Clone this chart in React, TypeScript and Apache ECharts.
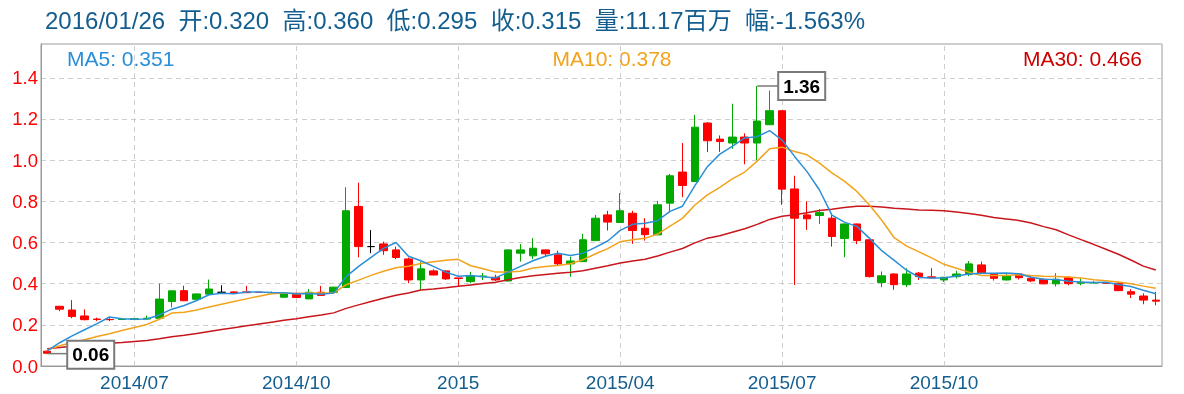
import React, { useEffect, useRef } from 'react';
import * as echarts from 'echarts';

const dates = [
  '2014/05/16', '2014/05/23', '2014/05/30', '2014/06/06', '2014/06/13', '2014/06/20', '2014/06/27', '2014/07/04', '2014/07/11', '2014/07/18',
  '2014/07/25', '2014/08/01', '2014/08/08', '2014/08/15', '2014/08/22', '2014/08/29', '2014/09/05', '2014/09/12', '2014/09/19', '2014/09/26',
  '2014/10/03', '2014/10/10', '2014/10/17', '2014/10/24', '2014/10/31', '2014/11/07', '2014/11/14', '2014/11/21', '2014/11/28', '2014/12/05',
  '2014/12/12', '2014/12/19', '2014/12/24', '2015/01/02', '2015/01/09', '2015/01/16', '2015/01/23', '2015/01/30', '2015/02/06', '2015/02/13',
  '2015/02/18', '2015/02/27', '2015/03/06', '2015/03/13', '2015/03/20', '2015/03/27', '2015/04/02', '2015/04/10', '2015/04/17', '2015/04/24',
  '2015/04/30', '2015/05/08', '2015/05/15', '2015/05/22', '2015/05/29', '2015/06/05', '2015/06/12', '2015/06/19', '2015/06/26', '2015/07/03',
  '2015/07/10', '2015/07/17', '2015/07/24', '2015/07/31', '2015/08/07', '2015/08/14', '2015/08/21', '2015/08/28', '2015/09/04', '2015/09/11',
  '2015/09/18', '2015/09/25', '2015/10/02', '2015/10/09', '2015/10/16', '2015/10/23', '2015/10/30', '2015/11/06', '2015/11/13', '2015/11/20',
  '2015/11/27', '2015/12/04', '2015/12/11', '2015/12/18', '2015/12/24', '2015/12/31', '2016/01/08', '2016/01/15', '2016/01/22', '2016/01/26',
];

const opens = [
  0.072, 0.290, 0.272, 0.243, 0.228, 0.226, 0.226, 0.226, 0.228, 0.232,
  0.313, 0.366, 0.324, 0.349, 0.358, 0.360, 0.360, 0.358, 0.356, 0.334,
  0.353, 0.326, 0.358, 0.358, 0.381, 0.775, 0.580, 0.593, 0.564, 0.520,
  0.418, 0.462, 0.462, 0.428, 0.410, 0.434, 0.431, 0.413, 0.548, 0.535,
  0.564, 0.540, 0.496, 0.507, 0.609, 0.734, 0.697, 0.742, 0.669, 0.637,
  0.791, 0.942, 0.896, 1.180, 1.102, 1.083, 1.112, 1.083, 1.172, 1.240,
  0.860, 0.734, 0.731, 0.718, 0.619, 0.690, 0.613, 0.405, 0.447, 0.395,
  0.451, 0.433, 0.418, 0.434, 0.446, 0.491, 0.447, 0.418, 0.447, 0.426,
  0.421, 0.399, 0.429, 0.402, 0.403, 0.403, 0.402, 0.361, 0.340, 0.320,
];

const closes = [
  0.062, 0.276, 0.240, 0.225, 0.226, 0.225, 0.228, 0.230, 0.232, 0.325,
  0.365, 0.317, 0.350, 0.374, 0.358, 0.355, 0.356, 0.357, 0.357, 0.353,
  0.333, 0.358, 0.343, 0.383, 0.754, 0.580, 0.580, 0.560, 0.527, 0.418,
  0.472, 0.442, 0.423, 0.425, 0.438, 0.437, 0.418, 0.564, 0.564, 0.572,
  0.545, 0.496, 0.510, 0.613, 0.718, 0.699, 0.754, 0.658, 0.638, 0.783,
  0.924, 0.877, 1.160, 1.094, 1.090, 1.112, 1.083, 1.190, 1.240, 0.859,
  0.718, 0.715, 0.745, 0.629, 0.690, 0.609, 0.434, 0.438, 0.395, 0.447,
  0.434, 0.428, 0.431, 0.447, 0.496, 0.451, 0.426, 0.438, 0.429, 0.413,
  0.399, 0.421, 0.400, 0.407, 0.405, 0.402, 0.366, 0.349, 0.320, 0.315,
];

const lows = [
  0.060, 0.266, 0.232, 0.222, 0.218, 0.218, 0.224, 0.224, 0.226, 0.230,
  0.285, 0.315, 0.322, 0.348, 0.356, 0.352, 0.355, 0.355, 0.354, 0.333,
  0.332, 0.324, 0.342, 0.356, 0.380, 0.528, 0.548, 0.540, 0.519, 0.402,
  0.369, 0.440, 0.418, 0.386, 0.402, 0.418, 0.413, 0.410, 0.507, 0.519,
  0.531, 0.490, 0.434, 0.505, 0.607, 0.658, 0.695, 0.593, 0.609, 0.635,
  0.745, 0.820, 0.894, 1.039, 1.040, 1.055, 0.980, 1.000, 1.170, 0.783,
  0.394, 0.661, 0.690, 0.580, 0.528, 0.592, 0.430, 0.383, 0.370, 0.383,
  0.418, 0.425, 0.408, 0.425, 0.436, 0.447, 0.415, 0.415, 0.420, 0.407,
  0.397, 0.386, 0.392, 0.392, 0.402, 0.400, 0.364, 0.330, 0.300, 0.295,
];

const highs = [
  0.074, 0.292, 0.320, 0.275, 0.235, 0.232, 0.232, 0.232, 0.245, 0.400,
  0.366, 0.390, 0.352, 0.420, 0.392, 0.362, 0.389, 0.360, 0.362, 0.355,
  0.355, 0.374, 0.389, 0.385, 0.868, 0.890, 0.660, 0.604, 0.580, 0.527,
  0.507, 0.470, 0.464, 0.428, 0.457, 0.452, 0.443, 0.566, 0.592, 0.621,
  0.566, 0.560, 0.531, 0.642, 0.734, 0.754, 0.840, 0.754, 0.718, 0.802,
  0.933, 1.083, 1.220, 1.185, 1.120, 1.274, 1.130, 1.360, 1.338, 1.242,
  0.924, 0.800, 0.762, 0.735, 0.692, 0.692, 0.615, 0.459, 0.450, 0.475,
  0.457, 0.475, 0.433, 0.463, 0.510, 0.507, 0.450, 0.447, 0.450, 0.437,
  0.426, 0.451, 0.437, 0.426, 0.413, 0.405, 0.405, 0.373, 0.353, 0.360,
];

const ma5 = [
  0.073, 0.113, 0.146, 0.176, 0.206, 0.238, 0.229, 0.227, 0.228, 0.248,
  0.276, 0.294, 0.318, 0.346, 0.353, 0.351, 0.359, 0.360, 0.357, 0.356,
  0.351, 0.352, 0.349, 0.354, 0.434, 0.484, 0.528, 0.571, 0.600, 0.533,
  0.511, 0.484, 0.456, 0.436, 0.440, 0.433, 0.428, 0.456, 0.484, 0.511,
  0.533, 0.548, 0.537, 0.547, 0.576, 0.607, 0.659, 0.688, 0.693, 0.706,
  0.751, 0.776, 0.876, 0.968, 1.029, 1.067, 1.108, 1.114, 1.143, 1.097,
  1.018, 0.944, 0.855, 0.733, 0.699, 0.678, 0.621, 0.560, 0.513, 0.465,
  0.430, 0.428, 0.427, 0.437, 0.447, 0.451, 0.450, 0.452, 0.448, 0.431,
  0.421, 0.420, 0.412, 0.408, 0.406, 0.407, 0.396, 0.386, 0.368, 0.351,
];

const ma10 = [
  0.078, 0.098, 0.114, 0.128, 0.143, 0.157, 0.172, 0.187, 0.202, 0.227,
  0.257, 0.261, 0.272, 0.287, 0.300, 0.313, 0.326, 0.339, 0.351, 0.354,
  0.351, 0.355, 0.354, 0.355, 0.395, 0.417, 0.440, 0.460, 0.477, 0.484,
  0.498, 0.506, 0.514, 0.518, 0.487, 0.472, 0.456, 0.456, 0.460, 0.476,
  0.483, 0.488, 0.497, 0.516, 0.544, 0.570, 0.604, 0.613, 0.620, 0.641,
  0.679, 0.717, 0.782, 0.831, 0.868, 0.909, 0.942, 0.995, 1.055, 1.063,
  1.042, 1.026, 0.985, 0.938, 0.898, 0.848, 0.783, 0.708, 0.623, 0.582,
  0.554, 0.525, 0.494, 0.475, 0.456, 0.440, 0.439, 0.439, 0.443, 0.439,
  0.436, 0.435, 0.432, 0.428, 0.419, 0.414, 0.408, 0.399, 0.388, 0.378,
];

const ma30 = [
  0.084, 0.090, 0.096, 0.100, 0.105, 0.110, 0.114, 0.119, 0.124, 0.132,
  0.142, 0.149, 0.158, 0.168, 0.177, 0.186, 0.195, 0.204, 0.213, 0.222,
  0.230, 0.239, 0.248, 0.258, 0.280, 0.297, 0.313, 0.329, 0.344, 0.355,
  0.369, 0.374, 0.380, 0.387, 0.394, 0.401, 0.407, 0.419, 0.430, 0.438,
  0.444, 0.450, 0.455, 0.463, 0.475, 0.487, 0.500, 0.510, 0.519, 0.534,
  0.553, 0.571, 0.598, 0.621, 0.633, 0.650, 0.667, 0.688, 0.712, 0.727,
  0.735, 0.744, 0.755, 0.761, 0.770, 0.776, 0.776, 0.772, 0.766, 0.762,
  0.758, 0.756, 0.754, 0.748, 0.741, 0.732, 0.721, 0.714, 0.707, 0.695,
  0.677, 0.662, 0.637, 0.614, 0.591, 0.567, 0.543, 0.515, 0.485, 0.466,
];

const volumeText = '11.17百万';
const changeText = '-1.563%';
const quarterMonths = ['01', '04', '07', '10'];

const FONT = '"Liberation Sans", Arial, "Noto Sans CJK SC", sans-serif';
const C_UP = '#00a800';
const C_DOWN = '#ff0000';
const C_MA5 = '#2b8fd8';
const C_MA10 = '#f2a31b';
const C_MA30 = '#c8161d';
const C_TITLE = '#145e8f';

export default function App() {
  const ref = useRef<HTMLDivElement>(null);

  useEffect(() => {
    const chart = echarts.init(ref.current as HTMLDivElement, null, { renderer: 'svg' });
    const candles = dates.map((_, i) => [opens[i], closes[i], lows[i], highs[i]]);
    // Quarter marks; the reference leaves out a mark too close to the right edge.
    const isQuarterStart = (i: number) => {
      if (i <= 0 || i > dates.length - 8) return false;
      const m = dates[i].slice(5, 7);
      return m !== dates[i - 1].slice(5, 7) && quarterMonths.includes(m);
    };
    const quarterDates = dates.filter((_, i) => isQuarterStart(i));
    const last = dates.length - 1;
    const title =
      `${dates[last]}  开:${opens[last].toFixed(3)}  高:${highs[last].toFixed(3)}  低:${lows[last].toFixed(3)}  ` +
      `收:${closes[last].toFixed(3)}  量:${volumeText}  幅:${changeText}`;

    chart.setOption({
      animation: false,
      textStyle: { fontFamily: FONT },
      grid: { left: 41, right: 22, top: 44, bottom: 28, show: true, borderColor: '#9a9a9a', borderWidth: 1 },
      xAxis: {
        type: 'category',
        data: dates,
        boundaryGap: true,
        axisLine: { show: true, lineStyle: { color: '#9a9a9a', width: 1 } },
        axisTick: { show: false },
        splitLine: { show: false },
        axisLabel: {
          interval: (i: number) => isQuarterStart(i),
          formatter: (v: string) => (v.slice(5, 7) === '01' ? v.slice(0, 4) : v.slice(0, 7)),
          color: C_TITLE,
          fontSize: 19,
          fontFamily: FONT,
          margin: 7,
        },
      },
      yAxis: {
        type: 'value',
        min: 0,
        max: 1.564,
        interval: 0.2,
        axisLine: { show: true, lineStyle: { color: '#9a9a9a', width: 1 } },
        axisTick: { show: false },
        splitLine: { show: true, lineStyle: { color: '#cfcfcf', type: [5, 4], width: 1 } },
        axisLabel: {
          showMaxLabel: false,
          formatter: (v: number) => v.toFixed(1),
          color: '#ff0000',
          fontSize: 18.5,
          fontFamily: FONT,
          margin: 3,
        },
      },
      series: [
        {
          type: 'candlestick',
          data: candles,
          barWidth: 8,
          itemStyle: {
            color: C_UP,
            color0: C_DOWN,
            borderColor: C_UP,
            borderColor0: C_DOWN,
            borderColorDoji: '#000000',
            borderWidth: 1,
          },
          markLine: {
            silent: true,
            symbol: ['none', 'none'],
            z: 1,
            label: { show: false },
            lineStyle: { color: '#cfcfcf', type: [5, 4], width: 1 },
            data: quarterDates.map((d) => ({ xAxis: d })),
          },
        },
        { type: 'line', data: ma30, symbol: 'none', lineStyle: { color: C_MA30, width: 1.5 } },
        { type: 'line', data: ma10, symbol: 'none', lineStyle: { color: C_MA10, width: 1.5 } },
        { type: 'line', data: ma5, symbol: 'none', lineStyle: { color: C_MA5, width: 1.5 } },
      ],
    });

    const hiIdx = highs.indexOf(Math.max(...highs));
    const loIdx = lows.indexOf(Math.min(...lows));
    const ph = chart.convertToPixel({ gridIndex: 0 }, [hiIdx, highs[hiIdx]]) as number[];
    const pl = chart.convertToPixel({ gridIndex: 0 }, [loIdx, lows[loIdx]]) as number[];

    const marker = (p: number[], label: string, dx: number, dyBox: number) => [
      {
        type: 'line',
        z: 50,
        shape: { x1: p[0], y1: p[1], x2: p[0] + dx, y2: p[1] },
        style: { stroke: '#7a7a7a', lineWidth: 1.5 },
      },
      {
        type: 'rect',
        z: 50,
        shape: { x: p[0] + dx, y: p[1] - 14 + dyBox, width: 47, height: 28 },
        style: { fill: '#ffffff', stroke: '#7a7a7a', lineWidth: 2 },
      },
      {
        type: 'text',
        z: 51,
        x: p[0] + dx + 23.5,
        y: p[1] + dyBox,
        style: {
          text: label,
          font: `bold 19px ${FONT}`,
          fill: '#000000',
          align: 'center',
          verticalAlign: 'middle',
        },
      },
    ];

    chart.setOption({
      graphic: [
        {
          type: 'text',
          x: 45,
          y: 20,
          style: { text: title, font: `24px ${FONT}`, fill: C_TITLE, align: 'left', verticalAlign: 'middle' },
        },
        {
          type: 'text',
          x: 67,
          y: 58,
          style: { text: `MA5: ${ma5[last].toFixed(3)}`, font: `21px ${FONT}`, fill: C_MA5, align: 'left', verticalAlign: 'middle' },
        },
        {
          type: 'text',
          x: 612,
          y: 58,
          style: { text: `MA10: ${ma10[last].toFixed(3)}`, font: `21px ${FONT}`, fill: C_MA10, align: 'center', verticalAlign: 'middle' },
        },
        {
          type: 'text',
          x: 1142,
          y: 58,
          style: { text: `MA30: ${ma30[last].toFixed(3)}`, font: `21px ${FONT}`, fill: '#cc0000', align: 'right', verticalAlign: 'middle' },
        },
        ...marker(ph, highs[hiIdx].toFixed(2), 21, 0),
        ...marker(pl, lows[loIdx].toFixed(2), 20, 1),
      ],
    });

    return () => chart.dispose();
  }, []);

  return <div ref={ref} style={{ position: 'fixed', left: 0, top: 0, width: 1184, height: 394 }} />;
}
